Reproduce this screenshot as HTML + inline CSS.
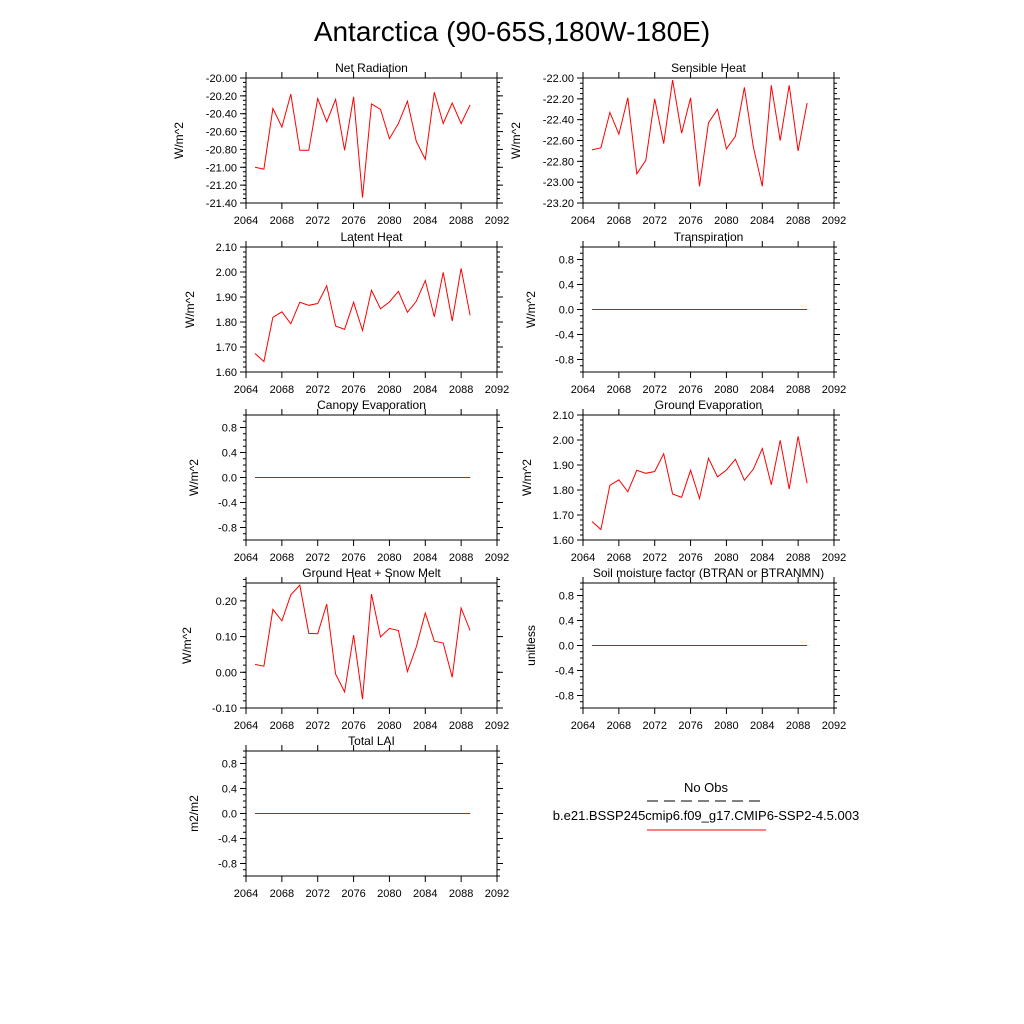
<!DOCTYPE html>
<html><head><meta charset="utf-8"><style>
html,body{margin:0;padding:0;background:#fff}
svg{display:block;font-family:"Liberation Sans",sans-serif}
</style></head><body>
<svg id="fig" width="1024" height="1024" viewBox="0 0 1024 1024">
<text x="512" y="41" font-size="28" text-anchor="middle">Antarctica (90-65S,180W-180E)</text>
<g>
<text x="706" y="792" font-size="13" text-anchor="middle">No Obs</text>
<line x1="647" y1="801" x2="766" y2="801" stroke="#000" stroke-width="1" stroke-dasharray="11,6"/>
<text x="706" y="820" font-size="13" text-anchor="middle">b.e21.BSSP245cmip6.f09_g17.CMIP6-SSP2-4.5.003</text>
<line x1="647" y1="830" x2="766" y2="830" stroke="#f00" stroke-width="1"/>
</g>
</svg>
<script>
const years = [2065,2066,2067,2068,2069,2070,2071,2072,2073,2074,2075,2076,2077,2078,2079,2080,2081,2082,2083,2084,2085,2086,2087,2088,2089];
const xTicks = [2064,2068,2072,2076,2080,2084,2088,2092];
const netRad = [-21.00,-21.02,-20.34,-20.55,-20.18,-20.81,-20.81,-20.23,-20.49,-20.24,-20.81,-20.21,-21.34,-20.29,-20.35,-20.68,-20.51,-20.26,-20.71,-20.91,-20.16,-20.51,-20.28,-20.51,-20.30];
const sensible = [-22.69,-22.67,-22.33,-22.54,-22.19,-22.92,-22.79,-22.20,-22.63,-22.02,-22.53,-22.19,-23.04,-22.43,-22.30,-22.68,-22.56,-22.09,-22.66,-23.04,-22.07,-22.60,-22.07,-22.70,-22.24];
const latent = [1.674,1.642,1.819,1.841,1.793,1.879,1.867,1.874,1.945,1.784,1.771,1.879,1.766,1.927,1.853,1.880,1.923,1.839,1.883,1.966,1.821,1.999,1.804,2.015,1.827];
const groundEvap = [1.674,1.642,1.819,1.841,1.793,1.879,1.867,1.874,1.945,1.784,1.771,1.879,1.766,1.927,1.853,1.880,1.923,1.839,1.883,1.966,1.821,1.999,1.804,2.015,1.827];
const groundHeat = [0.022,0.017,0.176,0.144,0.217,0.244,0.109,0.108,0.191,-0.005,-0.055,0.104,-0.075,0.219,0.099,0.123,0.117,0.002,0.071,0.166,0.087,0.082,-0.014,0.180,0.117];
const zeros = [0,0,0,0,0,0,0,0,0,0,0,0,0,0,0,0,0,0,0,0,0,0,0,0,0];
const netTicks = [-20.0,-20.2,-20.4,-20.6,-20.8,-21.0,-21.2,-21.4];
const sensTicks = [-22.0,-22.2,-22.4,-22.6,-22.8,-23.0,-23.2];
const latTicks = [1.6,1.7,1.8,1.9,2.0,2.1];
const ghTicks = [-0.1,0.0,0.1,0.2];
const zeroTicks = [-0.8,-0.4,0.0,0.4,0.8];

const NS="http://www.w3.org/2000/svg";
const svg=document.getElementById('fig');
function mk(tag,attrs,parent){const e=document.createElementNS(NS,tag);for(const k in attrs)e.setAttribute(k,attrs[k]);parent.appendChild(e);return e;}

const panels=[
 {name:'net-radiation',title:'Net Radiation',unit:'W/m^2',x:246,y:78,min:-21.4,max:-20.0,ticks:netTicks,minor:0.05,dec:2,data:netRad,ytx:183},
 {name:'sensible-heat',title:'Sensible Heat',unit:'W/m^2',x:583,y:78,min:-23.2,max:-22.0,ticks:sensTicks,minor:0.05,dec:2,data:sensible,ytx:520},
 {name:'latent-heat',title:'Latent Heat',unit:'W/m^2',x:246,y:247,min:1.6,max:2.1,ticks:latTicks,minor:0.02,dec:2,data:latent,ytx:194},
 {name:'transpiration',title:'Transpiration',unit:'W/m^2',x:583,y:247,min:-1,max:1,ticks:zeroTicks,minor:0.1,dec:1,data:zeros,ytx:535},
 {name:'canopy-evaporation',title:'Canopy Evaporation',unit:'W/m^2',x:246,y:415,min:-1,max:1,ticks:zeroTicks,minor:0.1,dec:1,data:zeros,ytx:198},
 {name:'ground-evaporation',title:'Ground Evaporation',unit:'W/m^2',x:583,y:415,min:1.6,max:2.1,ticks:latTicks,minor:0.02,dec:2,data:groundEvap,ytx:531},
 {name:'ground-heat-snow-melt',title:'Ground Heat + Snow Melt',unit:'W/m^2',x:246,y:583,min:-0.1,max:0.25,ticks:ghTicks,minor:0.02,dec:2,data:groundHeat,ytx:191},
 {name:'soil-moisture-factor',title:'Soil moisture factor (BTRAN or BTRANMN)',unit:'unitless',x:583,y:583,min:-1,max:1,ticks:zeroTicks,minor:0.1,dec:1,data:zeros,ytx:535},
 {name:'total-lai',title:'Total LAI',unit:'m2/m2',x:246,y:751,min:-1,max:1,ticks:zeroTicks,minor:0.1,dec:1,data:zeros,ytx:198}
];
const W=251,H=125,X0=2064,X1=2092;
panels.forEach(p=>{
 const g=mk('g',{},svg);
 
 
 const sx=v=>p.x+(v-X0)/(X1-X0)*W;
 const sy=v=>p.y+H-(v-p.min)/(p.max-p.min)*H;
 const t=mk('text',{x:p.x+W/2,y:p.y-6,'font-size':12,'text-anchor':'middle'},g);t.textContent=p.title;
 
 
 const fr=mk('rect',{x:p.x,y:p.y,width:W,height:H,fill:'none',stroke:'#000','stroke-width':1},g);
 
 
 // x ticks
 for(let yv=X0;yv<=X1;yv++){
  const x=sx(yv), major=(yv-X0)%4===0, L=major?6:0;
  if(!L)continue;
  mk('line',{x1:x,y1:p.y+H,x2:x,y2:p.y+H+L,stroke:'#000'},g);
  mk('line',{x1:x,y1:p.y,x2:x,y2:p.y-L,stroke:'#000'},g);
 }
 xTicks.forEach(v=>{const tl=mk('text',{x:sx(v),y:p.y+H+21,'font-size':11,'text-anchor':'middle'},g);tl.textContent=v;
  
  });
 // y minor ticks
 const n=Math.round((p.max-p.min)/p.minor);
 for(let i=0;i<=n;i++){const v=p.min+i*p.minor;const y=sy(v);
  mk('line',{x1:p.x,y1:y,x2:p.x-3,y2:y,stroke:'#000'},g);
  mk('line',{x1:p.x+W,y1:y,x2:p.x+W+3,y2:y,stroke:'#000'},g);}
 p.ticks.forEach(v=>{const y=sy(v);
  mk('line',{x1:p.x,y1:y,x2:p.x-6,y2:y,stroke:'#000'},g);
  mk('line',{x1:p.x+W,y1:y,x2:p.x+W+6,y2:y,stroke:'#000'},g);
  const tl=mk('text',{x:p.x-9,y:y+4,'font-size':11,'text-anchor':'end'},g);tl.textContent=v.toFixed(p.dec);
  
  });
 const yt=mk('text',{x:p.ytx,y:p.y+H/2,'font-size':12,'text-anchor':'middle',transform:`rotate(-90 ${p.ytx} ${p.y+H/2})`},g);yt.textContent=p.unit;
 
 
 const pts=years.map((yr,i)=>sx(yr).toFixed(1)+','+sy(p.data[i]).toFixed(1)).join(' ');
 const ln=mk('polyline',{points:pts,fill:'none',stroke:'#f00','stroke-width':1},g);
 
 
});
</script>
</body></html>
